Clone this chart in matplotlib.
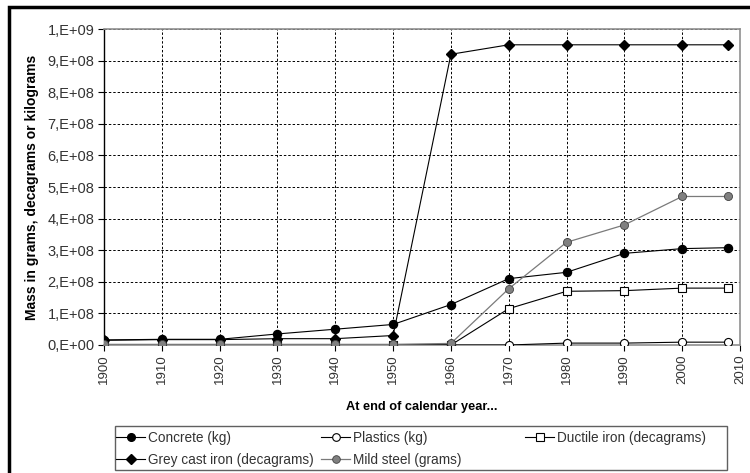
import matplotlib
matplotlib.use("Agg")
import matplotlib.pyplot as plt
from matplotlib.ticker import FuncFormatter, MultipleLocator
from matplotlib.patches import Rectangle
import numpy as np

plt.rcParams['font.family'] = ['Liberation Sans', 'DejaVu Sans']

years = [1900, 1910, 1920, 1930, 1940, 1950, 1960, 1970, 1980, 1990, 2000, 2008]
years_plastics = [1950, 1960, 1970, 1980, 1990, 2000, 2008]

concrete = [1.6e7, 1.8e7, 1.8e7, 3.5e7, 5.0e7, 6.5e7, 1.28e8, 2.1e8, 2.3e8, 2.9e8, 3.05e8, 3.08e8]
plastics = [0.0, 0.0, 0.0, 6e6, 6e6, 9e6, 9e6]
ductile_iron = [0.0, 0.0, 0.0, 0.0, 0.0, 0.0, 0.0, 1.15e8, 1.70e8, 1.72e8, 1.80e8, 1.80e8]
grey_cast_iron = [1.5e7, 1.7e7, 1.7e7, 2.0e7, 2.0e7, 3.0e7, 9.2e8, 9.5e8, 9.5e8, 9.5e8, 9.5e8, 9.5e8]
mild_steel = [2e6, 2e6, 2e6, 2e6, 2e6, 2e6, 5e6, 1.78e8, 3.25e8, 3.8e8, 4.7e8, 4.7e8]

W, H = 750, 473
fig = plt.figure(figsize=(W / 100, H / 100), dpi=100)
fig.patch.set_facecolor('white')

# outer frame around the chart
fig.add_artist(Rectangle((9 / W, -0.05), 1.2, (H - 7) / H + 0.05,
                         transform=fig.transFigure, fill=False,
                         edgecolor='black', linewidth=2.5))

ax = fig.add_axes([104 / W, (H - 345) / H, (740 - 104) / W, (345 - 29) / H])

ax.plot(years, concrete, color='black', lw=0.8, marker='o', ms=5.8,
        mfc='black', mec='black', label='Concrete (kg)', zorder=3)
ax.plot(years_plastics, plastics, color='black', lw=0.8, marker='o', ms=5.8,
        mfc='white', mec='black', mew=0.8, label='Plastics (kg)', zorder=3)
ax.plot(years, ductile_iron, color='black', lw=0.8, marker='s', ms=6.2,
        mfc='white', mec='black', mew=0.8, label='Ductile iron (decagrams)', zorder=3)
ax.plot(years, grey_cast_iron, color='black', lw=0.8, marker='D', ms=5.5,
        mfc='black', mec='black', label='Grey cast iron (decagrams)', zorder=3)
ax.plot(years, mild_steel, color='#7a7a7a', lw=0.9, marker='o', ms=5.8,
        mfc='#808080', mec='#404040', mew=0.6, label='Mild steel (grams)', zorder=3)

ax.set_xlim(1900, 2010)
ax.set_ylim(0, 1e9)
ax.xaxis.set_major_locator(MultipleLocator(10))
ax.yaxis.set_major_locator(MultipleLocator(1e8))


def sci_comma(v, pos):
    if v == 0:
        return '0,E+00'
    exp = int(np.floor(np.log10(abs(v)) + 1e-9))
    mant = v / 10 ** exp
    return f'{mant:.0f},E+{exp:02d}'


ax.yaxis.set_major_formatter(FuncFormatter(sci_comma))
ax.tick_params(axis='x', labelrotation=90, labelsize=9.5, labelcolor='#333333',
               length=4, direction='out', pad=3)
ax.tick_params(axis='y', labelsize=10.5, labelcolor='#333333', length=4,
               direction='out', pad=3)
ax.tick_params(axis='both', color='black')

ax.grid(True, color='black', linestyle=(0, (2.5, 2)), linewidth=0.7, zorder=0)
ax.set_axisbelow(True)

for side in ['top', 'right', 'bottom']:
    ax.spines[side].set_color('#909090')
    ax.spines[side].set_linewidth(1.2)
ax.spines['left'].set_color('black')
ax.spines['left'].set_linewidth(1.0)

ax.set_ylabel('Mass in grams, decagrams or kilograms', fontsize=10,
              fontweight='bold', labelpad=6)
ax.set_xlabel('At end of calendar year...', fontsize=9.2, fontweight='bold',
              labelpad=12)

# legend: three columns, two rows, inside a single box
handles, labels = ax.get_legend_handles_labels()
entries = {lab: h for h, lab in zip(handles, labels)}
col_x = [116, 321, 525]
row_y = [438, 460]
legend_grid = [
    ['Concrete (kg)', 'Plastics (kg)', 'Ductile iron (decagrams)'],
    ['Grey cast iron (decagrams)', 'Mild steel (grams)'],
]
for row, y in zip(legend_grid, row_y):
    for lab, x in zip(row, col_x):
        lg = fig.legend([entries[lab]], [lab], loc='center left',
                        bbox_to_anchor=(x / W, 1 - y / H), frameon=False,
                        fontsize=9.8, borderpad=0, borderaxespad=0,
                        handlelength=2.15, handletextpad=0.2, markerscale=0.95)
        for t in lg.get_texts():
            t.set_color('#333333')
fig.add_artist(Rectangle((115 / W, 1 - 470 / H), (727 - 115) / W, (470 - 426) / H,
                         transform=fig.transFigure, fill=False,
                         edgecolor='#606060', linewidth=1.0))

fig.savefig('out.png', dpi=100)
